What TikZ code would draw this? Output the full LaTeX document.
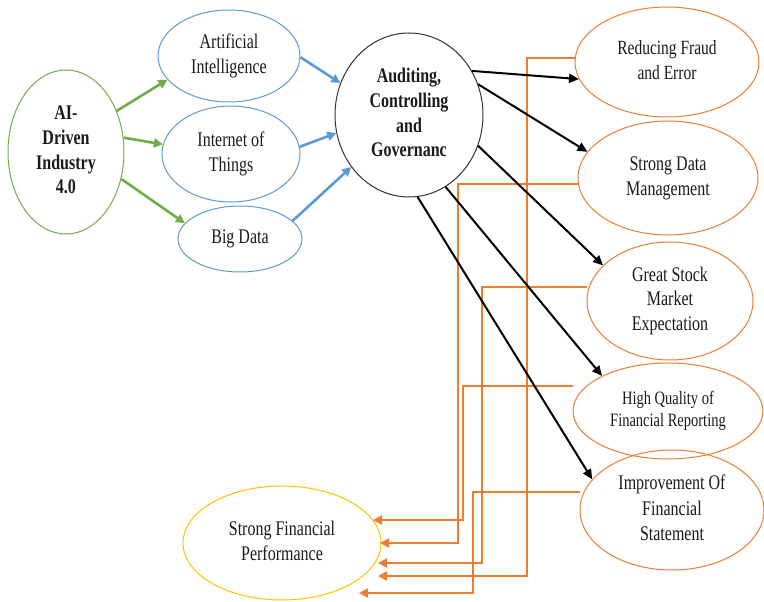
\documentclass[tikz,border=0pt]{standalone}
\usepackage{fontspec}
\setmainfont{Liberation Serif}
\usepackage{graphicx}
\usetikzlibrary{arrows.meta,shapes.geometric,calc}
\definecolor{cgreen}{HTML}{70AD47}
\definecolor{cblue}{HTML}{5B9BD5}
\definecolor{corange}{HTML}{ED7D31}
\definecolor{cyellow}{HTML}{FFC000}
\definecolor{ctext}{HTML}{1A1A1A}
\definecolor{cgray}{HTML}{333333}
\newcommand{\lbl}[4]{\scalebox{1}[1.3]{\fontsize{#1}{#2}\selectfont#3\begin{tabular}{@{}c@{}}#4\end{tabular}}}
\tikzset{
  ell/.style={ellipse, draw, inner sep=0pt, text=ctext, line width=1pt},
  garr/.style={cgreen, line width=2.6pt, -{Triangle[length=9pt,width=9pt]}},
  barr/.style={cblue, line width=2.6pt, -{Triangle[length=9pt,width=9pt]}},
  karr/.style={black, line width=2pt, -{Triangle[length=10pt,width=9pt]}},
  oarr/.style={corange, line width=2.4pt, -{Triangle[length=9pt,width=9pt]}},
}
\begin{document}
\begin{tikzpicture}[x=1pt,y=-1pt]
\path[use as bounding box] (0,0) rectangle (764,602);
% left part
\node[ell, draw=cgreen, minimum width=116pt, minimum height=164pt] (ai) at (66,152)
  {\lbl{16}{19}{\bfseries}{AI-\\Driven\\Industry\\4.0}};
\node[ell, draw=cblue, minimum width=142pt, minimum height=92pt] (art) at (229,56)
  {\lbl{16}{19}{}{Artificial\\Intelligence}};
\node[ell, draw=cblue, minimum width=138pt, minimum height=96pt] (iot) at (231,154)
  {\lbl{16}{19}{}{Internet of\\Things}};
\node[ell, draw=cblue, minimum width=124pt, minimum height=66pt] (bd) at (240,239)
  {\lbl{16}{19}{}{Big Data}};
% centre
\node[ell, draw=cgray, minimum width=148pt, minimum height=164pt] (aud) at (409,115)
  {\lbl{16}{19}{\bfseries}{Auditing,\\Controlling\\and\\Governanc}};
% right
\node[ell, draw=corange, minimum width=184pt, minimum height=110pt] (rf) at (667,62)
  {\lbl{15.5}{19}{}{Reducing Fraud\\and Error}};
\node[ell, draw=corange, minimum width=180pt, minimum height=114pt] (sd) at (668,178)
  {\lbl{16}{19}{}{Strong Data\\Management}};
\node[ell, draw=corange, minimum width=166pt, minimum height=118pt] (gs) at (670,301)
  {\lbl{16}{19}{}{Great Stock\\Market\\Expectation}};
\node[ell, draw=corange, minimum width=190pt, minimum height=96pt] (hq) at (668,411)
  {\lbl{14.5}{16.5}{}{High Quality of\\Financial Reporting}};
\node[ell, draw=corange, minimum width=184pt, minimum height=120pt] (imp) at (672,510)
  {\lbl{16}{19.5}{}{Improvement Of\\Financial\\Statement}};
% bottom
\node[ell, draw=cyellow, minimum width=198pt, minimum height=114pt] (sfp) at (282,543)
  {\lbl{16}{19}{}{Strong Financial\\Performance}};
% arrow tips at the performance node
\coordinate (t1) at (378,576);
\coordinate (t2) at (380,543);
\coordinate (t3) at (378,563);
\coordinate (t4) at (373,520);
\coordinate (t5) at (359,593);
% orange feedback connectors
\draw[oarr] ([yshift=4pt]rf.west) -| ([xshift=149pt]t1) -- (t1);
\draw[oarr] ([yshift=-6pt]sd.west) -| ([xshift=78pt]t2) -- (t2);
\draw[oarr] ([yshift=14pt]gs.west) -| ([xshift=104pt]t3) -- (t3);
\draw[oarr] ([yshift=25pt]hq.west) -| ([xshift=90pt]t4) -- (t4);
\draw[oarr] ([yshift=18pt]imp.west) -| ([xshift=114pt]t5) -- (t5);
% green
\draw[garr] (ai.39) -- (art.201);
\draw[garr] (ai.14) -- (iot.172);
\draw[garr] (ai.334) -- (bd.164);
% blue
\draw[barr] (art.359) -- (aud.155);
\draw[barr] (iot.6) -- (aud.194);
\draw[barr] (bd.19) -- (aud.222);
% black
\draw[karr] (aud.35) -- (rf.191);
\draw[karr] (aud.24) -- (sd.162);
\draw[karr] (aud.336) -- (gs.152);
\draw[karr] (aud.297) -- (hq.152);
\draw[karr] (aud.276) -- (imp.159);
\end{tikzpicture}
\end{document}
